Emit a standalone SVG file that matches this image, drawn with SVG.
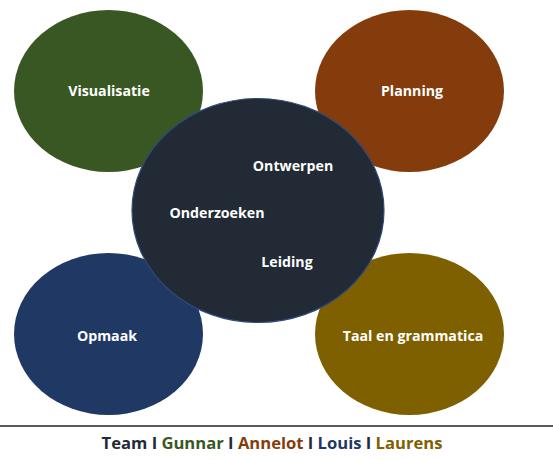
<svg xmlns="http://www.w3.org/2000/svg" width="553" height="460" viewBox="0 0 553 460">
  <style>
    .lbl { font-family: "Open Sans", "DejaVu Sans", sans-serif; font-weight: bold; font-size: 14.2px; fill: #ffffff; text-anchor: middle; }
    .foot { font-family: "Open Sans", "DejaVu Sans", sans-serif; font-weight: bold; font-size: 16.6px; text-anchor: middle; }
  </style>
  <rect width="553" height="460" fill="#ffffff"/>

  <g id="visualisatie">
    <ellipse cx="108.5" cy="91" rx="94.5" ry="81" fill="#385723"/>
    <text class="lbl" x="109" y="96">Visualisatie</text>
  </g>
  <g id="planning">
    <ellipse cx="409.5" cy="91" rx="94.5" ry="81" fill="#843c0c"/>
    <text class="lbl" x="412" y="96">Planning</text>
  </g>
  <g id="opmaak">
    <ellipse cx="108.5" cy="334" rx="94.5" ry="81" fill="#1f3864"/>
    <text class="lbl" x="107" y="341">Opmaak</text>
  </g>
  <g id="taal">
    <ellipse cx="409.5" cy="334" rx="94.5" ry="81" fill="#7f6000"/>
    <text class="lbl" x="413" y="341">Taal en grammatica</text>
  </g>
  <g id="team">
    <ellipse cx="258" cy="210.5" rx="126" ry="112" fill="#222a35" stroke="#2f4a7a" stroke-width="1.2"/>
    <text class="lbl" x="293" y="171">Ontwerpen</text>
    <text class="lbl" x="217" y="218">Onderzoeken</text>
    <text class="lbl" x="287" y="267">Leiding</text>
  </g>

  <g id="connectors"></g>

  <line x1="0" y1="426" x2="553" y2="426" stroke="#222222" stroke-width="1.5"/>
  <text class="foot" x="272" y="449"><tspan fill="#222a35">Team I </tspan><tspan fill="#385723">Gunnar</tspan><tspan fill="#222a35"> I </tspan><tspan fill="#843c0c">Annelot</tspan><tspan fill="#222a35"> I </tspan><tspan fill="#1f3864">Louis</tspan><tspan fill="#222a35"> I </tspan><tspan fill="#7f6000">Laurens</tspan></text>
</svg>
